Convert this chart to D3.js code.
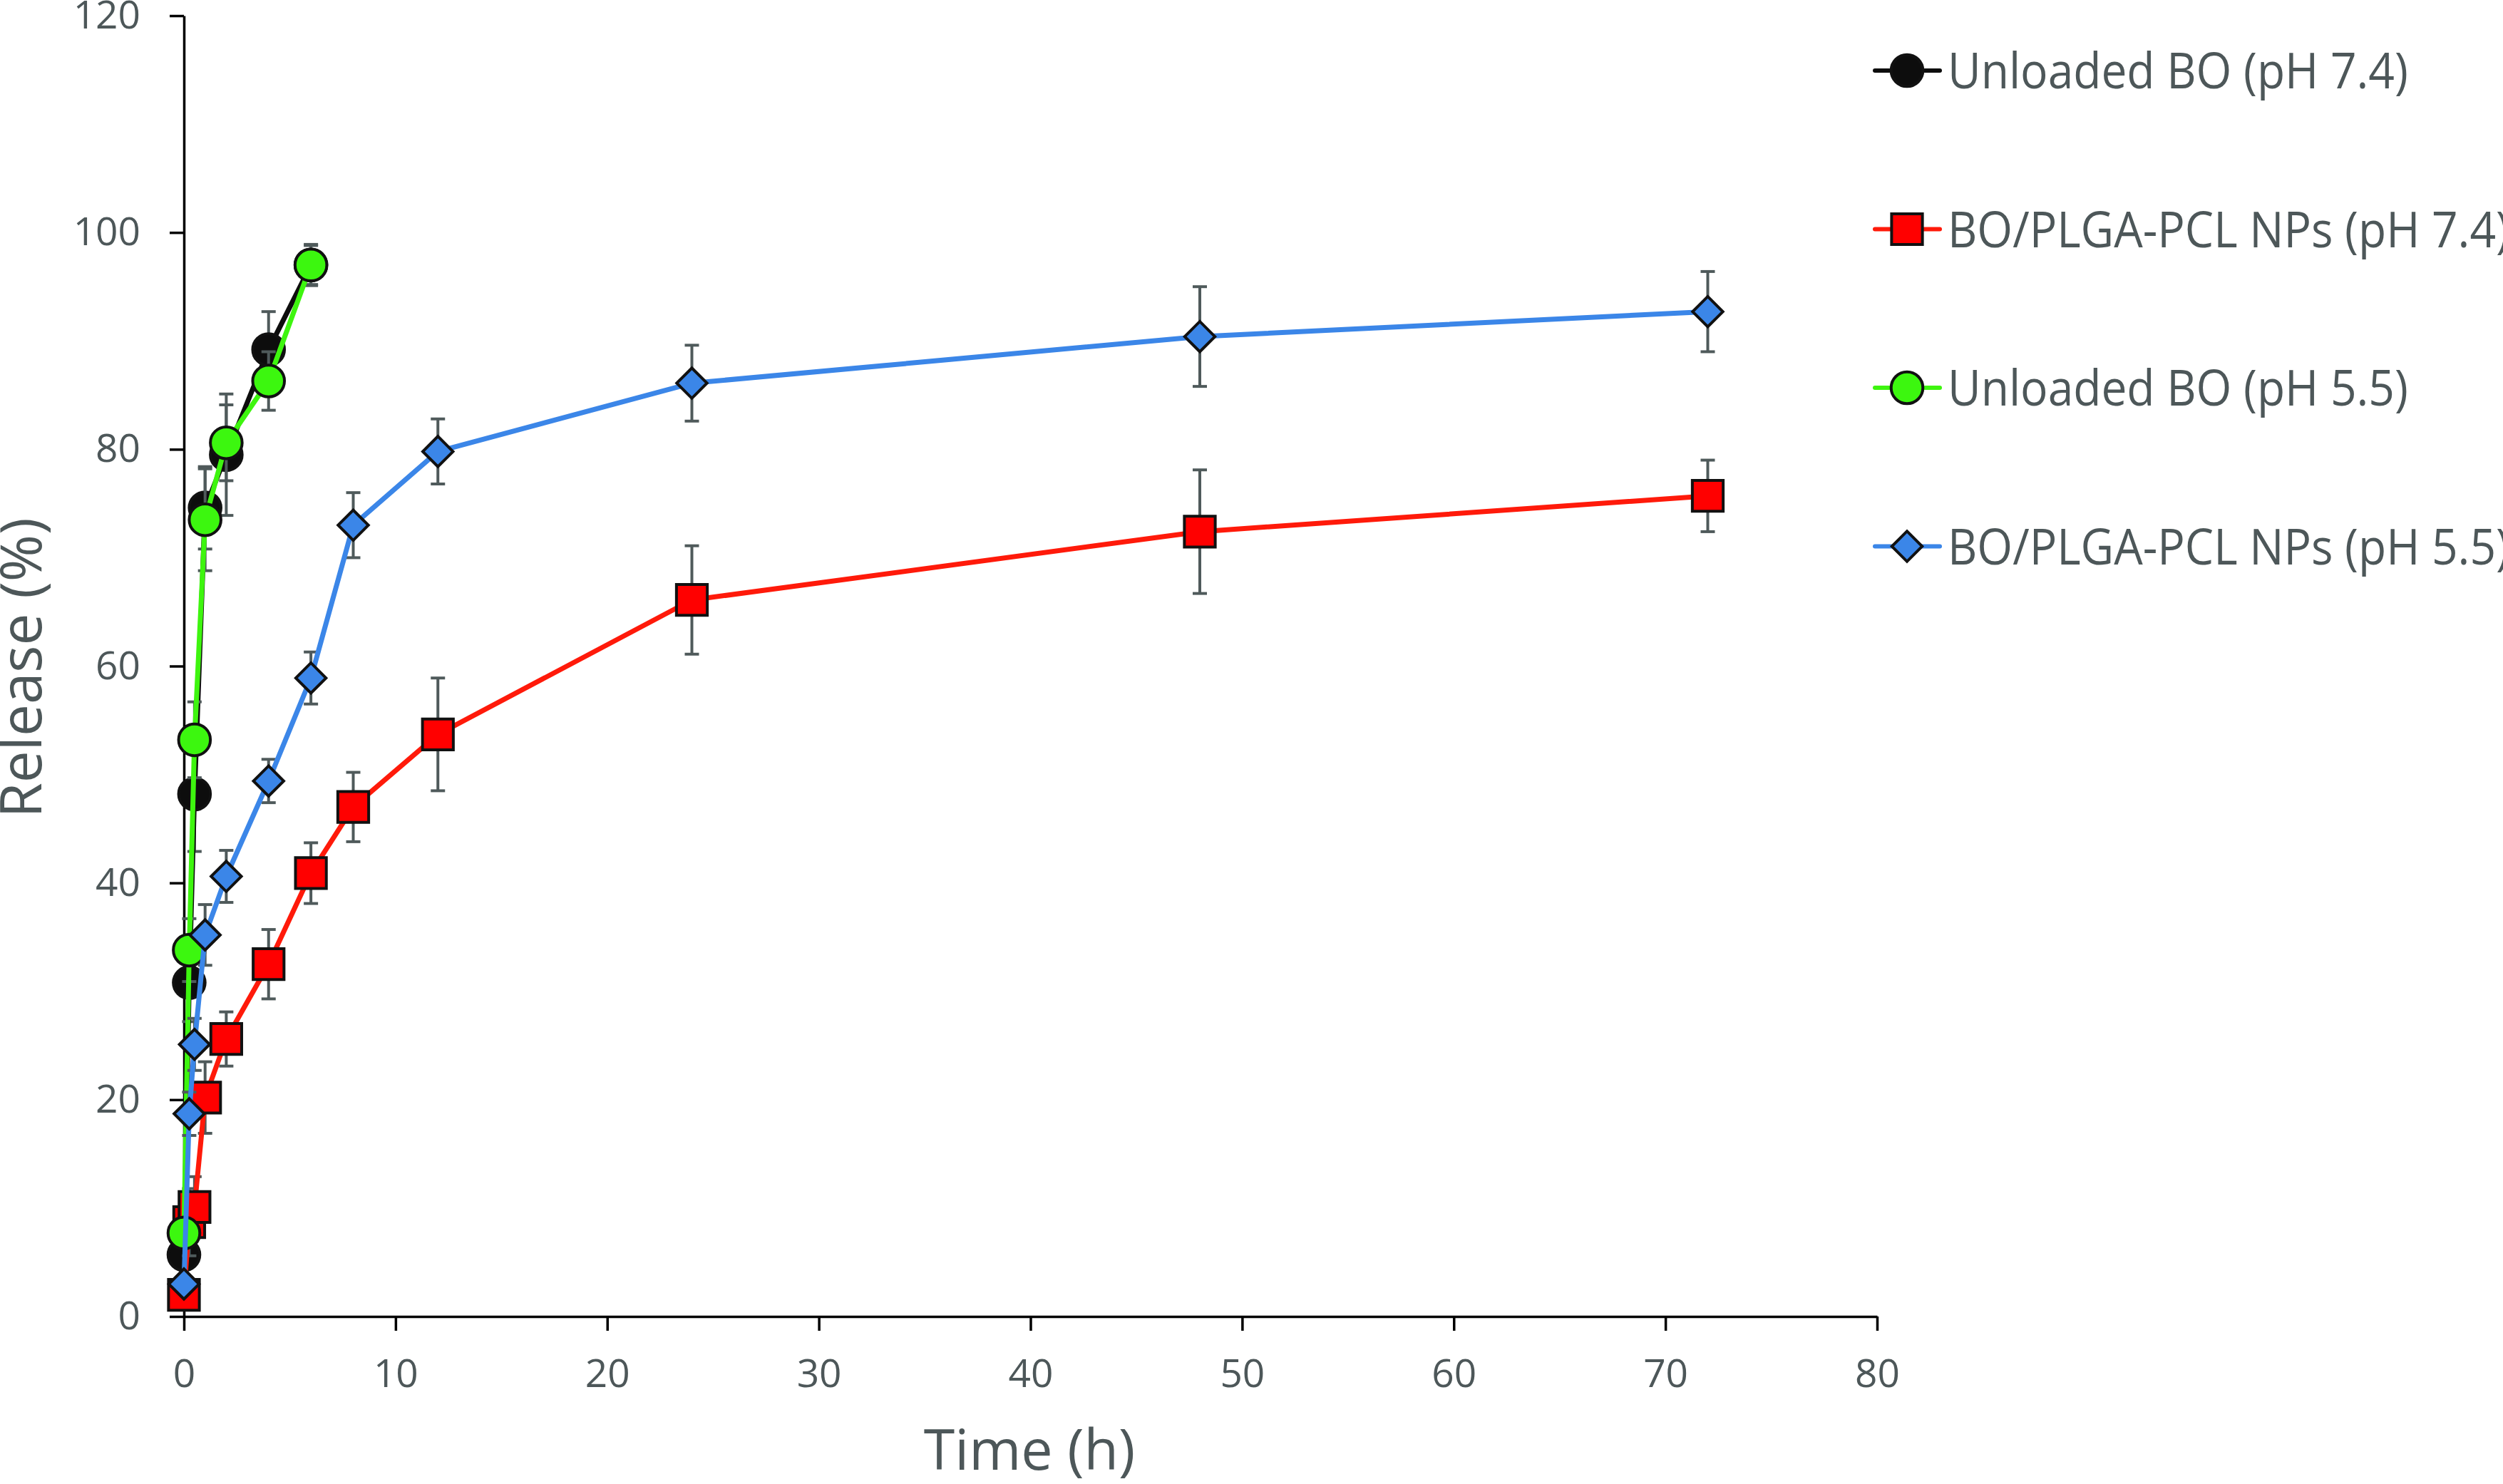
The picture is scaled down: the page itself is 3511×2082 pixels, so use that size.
<!DOCTYPE html>
<html>
<head>
<meta charset="utf-8">
<script src="https://cdn.jsdelivr.net/npm/d3@7"></script>
<style>
  body { margin: 0; background: #fff; }
  svg text { font-family: "Open Sans", "Noto Sans", sans-serif; fill: #4d5759; }
</style>
</head>
<body>
<svg id="chart" width="3511" height="2082"></svg>
<script>
// sampling times (h)
const timeFree = [0, 0.25, 0.5, 1, 2, 4, 6];
const timeNP = [0, 0.25, 0.5, 1, 2, 4, 6, 8, 12, 24, 48, 72];

// release (%) and SD
const freeBO74 = [5.7, 30.8, 48.2, 74.6, 79.5, 89.2, 97.0];
const freeBO74Err = [1.3, 3.6, 5.3, 3.8, 5.6, 3.5, 1.9];
const npBO74 = [2.0, 8.7, 10.1, 20.2, 25.6, 32.5, 40.9, 47.0, 53.7, 66.1, 72.4, 75.7];
const npBO74Err = [0.6, 3.1, 2.8, 3.3, 2.5, 3.2, 2.8, 3.2, 5.2, 5.0, 5.7, 3.3];
const freeBO55 = [7.7, 33.8, 53.2, 73.5, 80.6, 86.3, 97.0];
const freeBO55Err = [1.0, 2.9, 3.5, 4.7, 3.5, 2.7, 1.8];
const npBO55 = [3.0, 18.7, 25.1, 35.2, 40.6, 49.4, 58.9, 73.0, 79.8, 86.1, 90.4, 92.7];
const npBO55Err = [0.6, 2.0, 2.4, 2.8, 2.4, 2.0, 2.4, 3.0, 3.0, 3.5, 4.6, 3.7];

const seriesNames = ["Unloaded BO (pH 7.4)", "BO/PLGA-PCL NPs (pH 7.4)", "Unloaded BO (pH 5.5)", "BO/PLGA-PCL NPs (pH 5.5)"];
const xTicks = [0, 10, 20, 30, 40, 50, 60, 70, 80];
const yTicks = [0, 20, 40, 60, 80, 100, 120];

const series = [
    {name: seriesNames[0], t: timeFree, v: freeBO74, e: freeBO74Err, color: "#0d0d0d", fill: "#0d0d0d", shape: "circle"},
    {name: seriesNames[1], t: timeNP, v: npBO74, e: npBO74Err, color: "#ff1a0a", fill: "#ff0000", shape: "square"},
    {name: seriesNames[2], t: timeFree, v: freeBO55, e: freeBO55Err, color: "#3ef50f", fill: "#3cf70f", shape: "circle"},
    {name: seriesNames[3], t: timeNP, v: npBO55, e: npBO55Err, color: "#3b86e8", fill: "#3b86e8", shape: "diamond"}
];

const svg = d3.select("#chart");

const x = d3.scaleLinear().domain([0, 80]).range([258, 2633]);
const y = d3.scaleLinear().domain([0, 120]).range([1847, 22]);

function symbolPath(shape) {
    if (shape == "circle") return d3.symbol(d3.symbolCircle, 1560)();
    if (shape == "square") return d3.symbol(d3.symbolSquare, 1870)();
    return d3.symbol(d3.symbolSquare, 900)();
}
const rot = d => d.shape == "diamond" ? " rotate(45)" : "";

// Axes
const xAxis = d3.axisBottom(x).tickValues(xTicks).tickSize(20).tickSizeOuter(0).tickPadding(40);
const yAxis = d3.axisLeft(y).tickValues(yTicks).tickSize(20).tickSizeOuter(0).tickPadding(41);

const gx = svg.append("g").attr("transform", `translate(0,${y(0)})`).call(xAxis);
const gy = svg.append("g").attr("transform", `translate(${x(0)},0)`).call(yAxis);
[gx, gy].forEach(g => {
    g.selectAll("path, line").attr("stroke", "#000").attr("stroke-width", 3.5);
    g.selectAll("text").style("font-size", "55px").attr("fill", "#4d5759");
});

// Series
const line = d3.line().x(d => x(d[0])).y(d => y(d[1]));

series.forEach(s => {
    const pts = s.t.map((t, i) => [t, s.v[i], s.e[i]]);
    const g = svg.append("g");

    //Error bars
    const eb = g.selectAll(".err").data(pts).enter().append("g")
        .attr("stroke", "#4f5a5b").attr("stroke-width", 4);
    eb.append("line")
        .attr("x1", d => x(d[0])).attr("x2", d => x(d[0]))
        .attr("y1", d => y(d[1] + d[2])).attr("y2", d => y(d[1] - d[2]));
    eb.append("line")
        .attr("x1", d => x(d[0]) - 10).attr("x2", d => x(d[0]) + 10)
        .attr("y1", d => y(d[1] + d[2])).attr("y2", d => y(d[1] + d[2]));
    eb.append("line")
        .attr("x1", d => x(d[0]) - 10).attr("x2", d => x(d[0]) + 10)
        .attr("y1", d => y(d[1] - d[2])).attr("y2", d => y(d[1] - d[2]));

    g.append("path")
        .attr("d", line(pts))
        .attr("fill", "none")
        .attr("stroke", s.color)
        .attr("stroke-width", 7)
        .attr("stroke-linejoin", "round");

    g.selectAll(".mk").data(pts).enter().append("path")
        .attr("d", symbolPath(s.shape))
        .attr("transform", d => `translate(${x(d[0])},${y(d[1])})` + rot(s))
        .attr("fill", s.fill)
        .attr("stroke", "#111")
        .attr("stroke-width", 4);
});

// Legend
const legend = svg.append("g");
series.forEach((s, i) => {
    const ly = 99 + i * 222.5;
    legend.append("line")
        .attr("x1", 2630).attr("x2", 2721).attr("y1", ly).attr("y2", ly)
        .attr("stroke", s.color).attr("stroke-width", 6).attr("stroke-linecap", "round");
    legend.append("path")
        .attr("d", symbolPath(s.shape))
        .attr("transform", `translate(2675,${ly})` + rot(s))
        .attr("fill", s.fill).attr("stroke", "#111").attr("stroke-width", 4);
    // narrower, taller glyphs like the original Calibri text
    legend.append("text")
        .attr("transform", `translate(2732,${ly + 25}) scale(0.915,1)`)
        .style("font-size", "70px")
        .text(s.name);
});

// Axis titles
svg.append("text")
    .attr("x", 1444).attr("y", 2062)
    .attr("text-anchor", "middle")
    .style("font-size", "79px")
    .text("Time (h)");

svg.append("text")
    .attr("transform", "translate(58,937) rotate(-90)")
    .attr("text-anchor", "middle")
    .style("font-size", "80px")
    .text("Release (%)");
</script>
</body>
</html>
